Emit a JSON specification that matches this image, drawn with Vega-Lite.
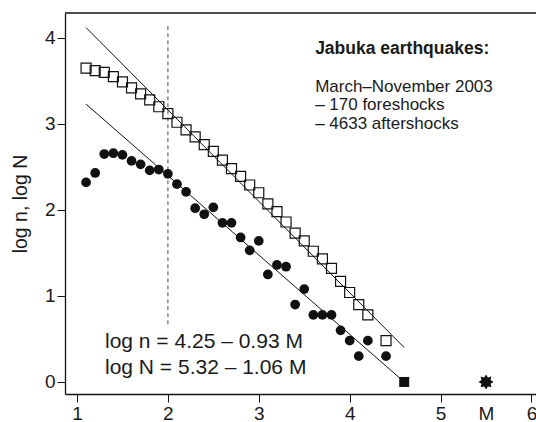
{
  "$schema": "https://vega.github.io/schema/vega-lite/v6.json",
  "width": 471,
  "height": 381,
  "autosize": {"type": "none"},
  "padding": {"left": 65, "top": 13, "right": 0, "bottom": 28},
  "background": "white",
  "config": {
    "view": {"stroke": null},
    "font": "Liberation Sans",
    "axis": {
      "grid": false,
      "domainColor": "#111",
      "domainWidth": 1.3,
      "tickColor": "#111",
      "tickWidth": 1,
      "tickSize": 8,
      "labelFont": "Liberation Sans",
      "labelFontSize": 19,
      "labelColor": "#1a1a1a",
      "titleFont": "Liberation Sans",
      "titleFontSize": 19.5,
      "titleFontWeight": "normal",
      "titleColor": "#1a1a1a"
    }
  },
  "datasets": {
    "cumN": [
      {"M": 1.1, "v": 3.65}, {"M": 1.2, "v": 3.62}, {"M": 1.3, "v": 3.6}, {"M": 1.4, "v": 3.55},
      {"M": 1.5, "v": 3.49}, {"M": 1.6, "v": 3.42}, {"M": 1.7, "v": 3.35}, {"M": 1.8, "v": 3.28},
      {"M": 1.9, "v": 3.2}, {"M": 2.0, "v": 3.12}, {"M": 2.1, "v": 3.02}, {"M": 2.2, "v": 2.93},
      {"M": 2.3, "v": 2.85}, {"M": 2.4, "v": 2.76}, {"M": 2.5, "v": 2.68}, {"M": 2.6, "v": 2.58},
      {"M": 2.7, "v": 2.48}, {"M": 2.8, "v": 2.39}, {"M": 2.9, "v": 2.29}, {"M": 3.0, "v": 2.2},
      {"M": 3.1, "v": 2.07}, {"M": 3.2, "v": 1.98}, {"M": 3.3, "v": 1.86}, {"M": 3.4, "v": 1.73},
      {"M": 3.5, "v": 1.64}, {"M": 3.6, "v": 1.52}, {"M": 3.7, "v": 1.43}, {"M": 3.8, "v": 1.32},
      {"M": 3.9, "v": 1.17}, {"M": 4.0, "v": 1.04}, {"M": 4.1, "v": 0.9}, {"M": 4.2, "v": 0.78},
      {"M": 4.4, "v": 0.48}
    ],
    "incn": [
      {"M": 1.1, "v": 2.32}, {"M": 1.2, "v": 2.43}, {"M": 1.3, "v": 2.65}, {"M": 1.4, "v": 2.66},
      {"M": 1.5, "v": 2.64}, {"M": 1.6, "v": 2.57}, {"M": 1.7, "v": 2.53}, {"M": 1.8, "v": 2.46},
      {"M": 1.9, "v": 2.47}, {"M": 2.0, "v": 2.42}, {"M": 2.1, "v": 2.3}, {"M": 2.2, "v": 2.21},
      {"M": 2.3, "v": 2.02}, {"M": 2.4, "v": 1.95}, {"M": 2.5, "v": 2.03}, {"M": 2.6, "v": 1.85},
      {"M": 2.7, "v": 1.85}, {"M": 2.8, "v": 1.68}, {"M": 2.9, "v": 1.53}, {"M": 3.0, "v": 1.64},
      {"M": 3.1, "v": 1.25}, {"M": 3.2, "v": 1.36}, {"M": 3.3, "v": 1.34}, {"M": 3.4, "v": 0.9},
      {"M": 3.5, "v": 1.08}, {"M": 3.6, "v": 0.78}, {"M": 3.7, "v": 0.78}, {"M": 3.8, "v": 0.78},
      {"M": 3.9, "v": 0.6}, {"M": 4.0, "v": 0.48}, {"M": 4.1, "v": 0.3}, {"M": 4.2, "v": 0.48},
      {"M": 4.4, "v": 0.3}
    ],
    "fits": [
      {"M": 1.1, "v": 4.12, "M2": 4.6, "v2": 0.4},
      {"M": 1.1, "v": 3.23, "M2": 4.6, "v2": 0.0}
    ],
    "frame": [{"M": 0.868, "v": 4.29, "M2": 6.05}],
    "dashed": [{"M": 2.0, "v": 0.67, "v2": 4.14}],
    "largest": [{"M": 4.6, "v": 0}],
    "mainshock": [{"M": 5.5, "v": 0}],
    "title": [{"M": 3.62, "v": 3.814, "label": "Jabuka earthquakes:"}],
    "notes": [
      {"M": 3.62, "v": 3.369, "label": "March–November 2003"},
      {"M": 3.62, "v": 3.158, "label": "– 170 foreshocks"},
      {"M": 3.62, "v": 2.945, "label": "– 4633 aftershocks"}
    ],
    "eqs": [
      {"M": 1.308, "v": 0.395, "label": "log n = 4.25 – 0.93 M"},
      {"M": 1.308, "v": 0.09, "label": "log N = 5.32 – 1.06 M"}
    ]
  },
  "encoding": {
    "x": {
      "field": "M",
      "type": "quantitative",
      "scale": {"domain": [0.868, 6.05], "nice": false, "zero": false},
      "axis": {
        "title": null,
        "values": [1, 2, 3, 4, 5, 5.5, 6],
        "labelExpr": "datum.value == 5.5 ? 'M' : datum.label",
        "tickOpacity": {"condition": {"test": "datum.value == 5.5", "value": 0}, "value": 1},
        "labelPadding": 2,
        "labelFlush": false
      }
    },
    "y": {
      "field": "v",
      "type": "quantitative",
      "scale": {"domain": [-0.14, 4.29], "nice": false, "zero": false},
      "axis": {
        "title": "log n, log N",
        "values": [0, 1, 2, 3, 4],
        "labelPadding": 2,
        "titlePadding": 14,
        "labelFlush": false
      }
    }
  },
  "layer": [
    {
      "data": {"name": "frame"},
      "mark": {"type": "rule", "color": "#111", "strokeWidth": 1.3},
      "encoding": {"x2": {"field": "M2"}}
    },
    {
      "data": {"name": "dashed"},
      "mark": {"type": "rule", "color": "#888", "strokeWidth": 1.5, "strokeDash": [4, 3]},
      "encoding": {"y2": {"field": "v2"}}
    },
    {
      "data": {"name": "fits"},
      "mark": {"type": "rule", "color": "#111", "strokeWidth": 1},
      "encoding": {"x2": {"field": "M2"}, "y2": {"field": "v2"}}
    },
    {
      "data": {"name": "cumN"},
      "mark": {"type": "point", "shape": "square", "filled": false, "size": 100, "stroke": "#111", "strokeWidth": 1.2, "fill": "white", "fillOpacity": 0, "opacity": 1}
    },
    {
      "data": {"name": "incn"},
      "mark": {"type": "point", "shape": "circle", "filled": true, "size": 95, "color": "#111", "opacity": 1}
    },
    {
      "data": {"name": "largest"},
      "mark": {"type": "point", "shape": "square", "filled": true, "size": 100, "color": "#111", "opacity": 1}
    },
    {
      "data": {"name": "mainshock"},
      "mark": {"type": "point", "shape": "M1,0L0.6,0.249L0.707,0.707L0.249,0.6L0,1L-0.249,0.6L-0.707,0.707L-0.6,0.249L-1,0L-0.6,-0.249L-0.707,-0.707L-0.249,-0.6L0,-1L0.249,-0.6L0.707,-0.707L0.6,-0.249Z", "filled": true, "size": 230, "color": "#111", "opacity": 1}
    },
    {
      "data": {"name": "title"},
      "mark": {"type": "text", "align": "left", "baseline": "alphabetic", "fontSize": 17.5, "fontWeight": "bold", "color": "#1a1a1a", "font": "Liberation Sans"},
      "encoding": {"text": {"field": "label"}}
    },
    {
      "data": {"name": "notes"},
      "mark": {"type": "text", "align": "left", "baseline": "alphabetic", "fontSize": 17, "color": "#1a1a1a", "font": "Liberation Sans"},
      "encoding": {"text": {"field": "label"}}
    },
    {
      "data": {"name": "eqs"},
      "mark": {"type": "text", "align": "left", "baseline": "alphabetic", "fontSize": 21, "color": "#1a1a1a", "font": "Liberation Sans"},
      "encoding": {"text": {"field": "label"}}
    }
  ]
}
